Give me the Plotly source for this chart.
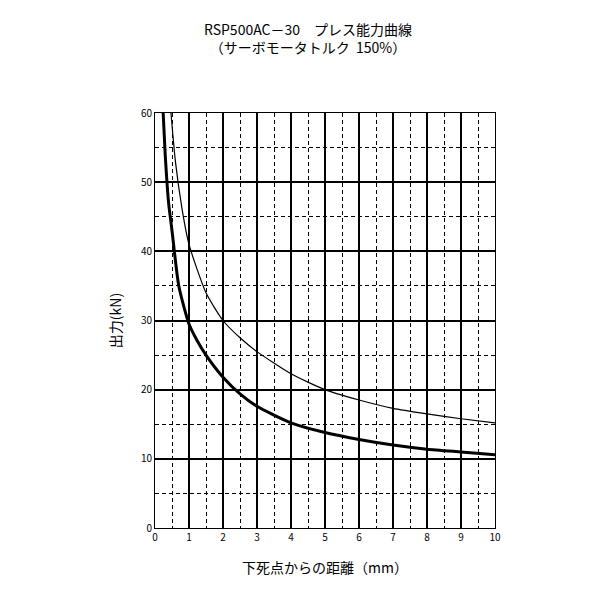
import plotly.graph_objects as go

x_thick = [0.24, 0.3, 0.4, 0.5, 0.7, 1.0, 1.25, 1.5, 2, 2.5, 3, 4, 5, 6, 7, 8, 9, 10]
y_thick = [60, 54, 47, 43, 35, 29.5, 27, 25, 21.8, 19.4, 17.6, 15.2, 13.8, 12.8, 12, 11.4, 11, 10.6]
x_thin = [0.47, 0.6, 0.8, 1.0, 1.5, 2, 2.5, 3, 4, 5, 6, 7, 8, 9, 10]
y_thin = [60, 53, 46, 41, 34, 30, 27.5, 25.5, 22.3, 20, 18.5, 17.3, 16.5, 15.8, 15.2]

fig = go.Figure()
fig.add_trace(go.Scatter(x=x_thin, y=y_thin, mode="lines", line=dict(color="black", width=1.2, shape="spline", smoothing=0.6)))
fig.add_trace(go.Scatter(x=x_thick, y=y_thick, mode="lines", line=dict(color="black", width=3, shape="spline", smoothing=0.6)))

font = "Noto Sans CJK JP"
fig.update_layout(
    width=600, height=600, showlegend=False, plot_bgcolor="white", paper_bgcolor="white",
    margin=dict(l=147, r=113, t=105, b=80, autoexpand=False),
    font=dict(family=font, color="black", size=10),
    title=dict(text="RSP500AC－30　プレス能力曲線<br>（サーボモータトルク  150%）", x=0.5, xanchor="center", y=0.955, yanchor="top", font=dict(size=14)),
)
fig.update_xaxes(range=[0, 10], dtick=1, showgrid=True, gridcolor="black", gridwidth=2, automargin=False,
                 minor=dict(dtick=0.5, showgrid=True, gridcolor="black", griddash="4px,3px", gridwidth=1),
                 showline=True, linecolor="black", linewidth=1, mirror=True, zeroline=False,
                 title=dict(text="下死点からの距離（mm）", font=dict(size=14), standoff=20), ticks="")
fig.update_yaxes(range=[0, 60], dtick=10, showgrid=True, gridcolor="black", gridwidth=2, automargin=False,
                 minor=dict(dtick=5, showgrid=True, gridcolor="black", griddash="4px,3px", gridwidth=1),
                 showline=True, linecolor="black", linewidth=1, mirror=True, zeroline=False,
                 title=dict(text="出力(kN)", font=dict(size=14), standoff=15), ticks="")
fig.write_html("out.html")
